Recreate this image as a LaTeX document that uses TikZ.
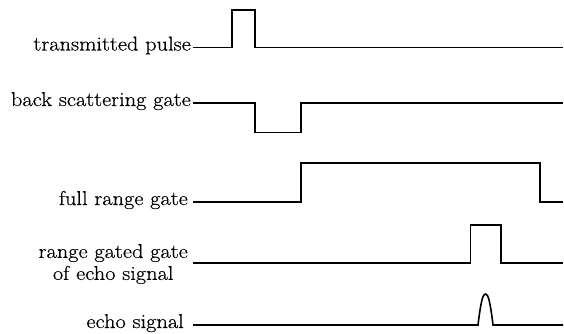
\documentclass[tikz,border=0pt]{standalone}
\usepackage{fontspec}
\setmainfont{Latin Modern Roman}[FakeStretch=1.12, FakeBold=0.5]
\begin{document}
\begin{tikzpicture}[x=1pt,y=-1pt,
  wave/.style={line width=1.6pt, line join=miter},
  lbl/.style={font=\fontsize{20}{22}\selectfont, anchor=base east, inner sep=0pt, align=center}]
\useasboundingbox (0,0) rectangle (564,334);

% signal names
\node[lbl] (tp) at (191,50.5) {transmitted pulse};
\node[lbl] (bs) at (191,106) {back scattering gate};
\node[lbl] (fr) at (188,205) {full range gate};
\node[lbl, anchor=east] (rg) at (188,264) {range gated gate\\of echo signal};
\node[lbl] (es) at (184,328) {echo signal};

% start points of the traces
\coordinate (tp0) at (193,47.7);
\coordinate (bs0) at (193,103);
\coordinate (fr0) at (193,202);
\coordinate (rg0) at (193,262.7);
\coordinate (es0) at (193,325);

% transmitted pulse
\draw[wave] (tp0) -- (232,47.7) -- (232,10) -- (255,10) -- (255,47.7) -- (563,47.7);
% back scattering gate
\draw[wave] (bs0) -- (255,103) -- (255,132.5) -- (301,132.5) -- (301,103) -- (563,103);
% full range gate
\draw[wave] (fr0) -- (301,202) -- (301,163) -- (540,163) -- (540,202) -- (563,202);
% range gated gate of echo signal
\draw[wave] (rg0) -- (470.5,262.7) -- (470.5,225) -- (501,225) -- (501,262.7) -- (563,262.7);
% echo signal
\draw[wave] (es0) -- (478,325)
  .. controls (481,300) and (483,294) .. (485.5,294)
  .. controls (488,294) and (490,300) .. (493,325) -- (563,325);
\end{tikzpicture}
\end{document}
